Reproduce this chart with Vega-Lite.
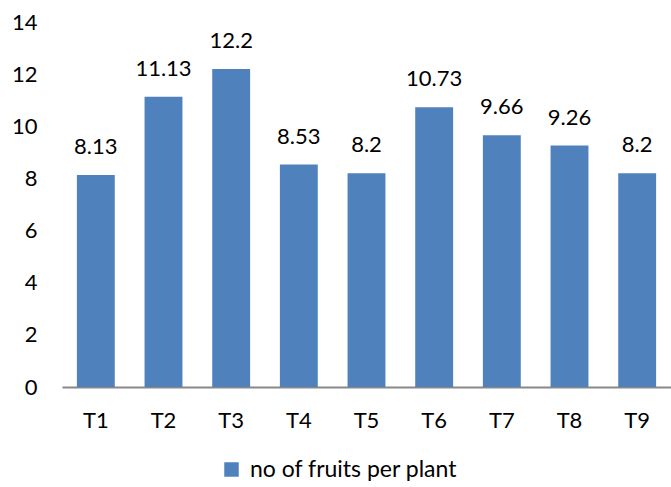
{
  "$schema": "https://vega.github.io/schema/vega-lite/v6.json",
  "autosize": "none",
  "width": 609,
  "height": 365,
  "padding": {"left": 62, "top": 22, "right": 0, "bottom": 100},
  "background": "white",
  "data": {"values": [
    {"t": "T1", "v": 8.13, "lab": "8.13", "s": "no of fruits per plant"},
    {"t": "T2", "v": 11.13, "lab": "11.13", "s": "no of fruits per plant"},
    {"t": "T3", "v": 12.2, "lab": "12.2", "s": "no of fruits per plant"},
    {"t": "T4", "v": 8.53, "lab": "8.53", "s": "no of fruits per plant"},
    {"t": "T5", "v": 8.2, "lab": "8.2", "s": "no of fruits per plant"},
    {"t": "T6", "v": 10.73, "lab": "10.73", "s": "no of fruits per plant"},
    {"t": "T7", "v": 9.66, "lab": "9.66", "s": "no of fruits per plant"},
    {"t": "T8", "v": 9.26, "lab": "9.26", "s": "no of fruits per plant"},
    {"t": "T9", "v": 8.2, "lab": "8.2", "s": "no of fruits per plant"}
  ]},
  "config": {
    "view": {"stroke": null},
    "font": "Lato",
    "axis": {"labelFont": "Lato", "labelFontSize": 22, "labelColor": "#000", "grid": false, "ticks": false, "title": null}
  },
  "encoding": {
    "x": {"field": "t", "type": "nominal", "sort": null,
      "scale": {"paddingInner": 0.44, "paddingOuter": 0.22},
      "axis": {"labelAngle": 0, "domainColor": "#888", "domainWidth": 2, "labelPadding": 23}},
    "y": {"field": "v", "type": "quantitative",
      "scale": {"domain": [0, 14], "nice": false},
      "axis": {"values": [0,2,4,6,8,10,12,14], "domain": false, "labelPadding": 25}}
  },
  "layer": [
    {"mark": {"type": "bar"},
     "encoding": {"color": {"field": "s", "type": "nominal",
       "scale": {"range": ["#4F81BD"]},
       "legend": {"title": null, "orient": "none", "legendX": 158, "legendY": 436,
         "symbolType": "square", "symbolSize": 210, "labelFontSize": 23, "labelFont": "Lato", "labelColor": "#000", "symbolStrokeWidth": 0, "labelOffset": 7, "labelLimit": 0}}}},
    {"mark": {"type": "text", "baseline": "bottom", "dy": -16, "fontSize": 22, "font": "Lato", "color": "#000"},
     "encoding": {"text": {"field": "lab"}}}
  ]
}
